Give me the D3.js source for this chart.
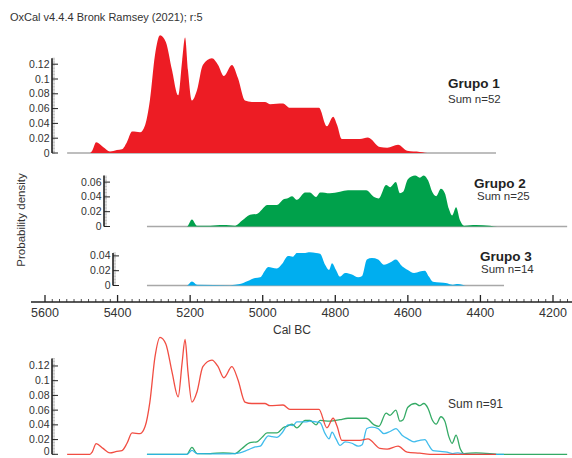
<!DOCTYPE html>
<html>
<head>
<meta charset="utf-8">
<script src="https://cdn.jsdelivr.net/npm/d3@7"></script>
<style>
  html, body { margin: 0; padding: 0; background: #fff; }
  svg { display: block; font-family: "Liberation Sans", Arial, sans-serif; }
</style>
</head>
<body>
<svg id="chart" width="572" height="458"></svg>
<script>
// Summed probability distributions (Cal BC years, probability density)
const group1Years = [5539,5476,5470,5459,5440,5421,5402,5388,5374,5360,5338,5324,5311,5297,5283,5267,5250,5233,5222,5214,5206,5195,5181,5165,5140,5123,5107,5085,5068,5049,5030,4994,4980,4944,4925,4897,4845,4823,4806,4795,4782,4732,4710,4677,4657,4627,4602,4567,4539,4357];
const group1Density = [0,0,0.003,0.0144,0.008,0.002,0.004,0.005,0.015,0.029,0.028,0.038,0.071,0.132,0.159,0.150,0.112,0.078,0.125,0.156,0.112,0.071,0.085,0.119,0.128,0.119,0.104,0.119,0.101,0.071,0.069,0.069,0.066,0.067,0.061,0.061,0.061,0.036,0.049,0.038,0.019,0.019,0.021,0.008,0.007,0.011,0.003,0.0015,0,0];

const group2Years = [5319,5209,5195,5181,5145,5109,5076,5057,5035,5016,5002,4988,4961,4941,4933,4919,4906,4883,4870,4853,4842,4815,4787,4765,4737,4715,4693,4680,4660,4649,4633,4622,4613,4600,4580,4567,4556,4544,4533,4522,4509,4498,4487,4478,4467,4456,4445,4412,4374,4354,4161];
const group2Density = [0,0,0.0095,0.001,0.001,0.002,0.001,0.008,0.016,0.017,0.023,0.029,0.029,0.037,0.038,0.041,0.036,0.046,0.046,0.040,0.046,0.045,0.047,0.049,0.049,0.049,0.040,0.038,0.056,0.053,0.060,0.045,0.047,0.064,0.069,0.066,0.069,0.062,0.047,0.041,0.051,0.045,0.024,0.015,0.026,0.008,0.001,0.002,0.001,0,0];

const group3Years = [5319,5209,5195,5181,5090,5063,5041,5021,5007,4994,4985,4974,4961,4947,4930,4917,4906,4883,4870,4853,4842,4828,4817,4809,4798,4787,4773,4754,4737,4726,4713,4699,4682,4666,4649,4633,4616,4600,4583,4567,4553,4542,4531,4511,4492,4476,4462,4450,4440,4335];
const group3Density = [0,0,0.0054,0.001,0.0005,0.002,0.006,0.010,0.011,0.020,0.025,0.024,0.023,0.029,0.040,0.039,0.044,0.044,0.045,0.044,0.043,0.028,0.021,0.030,0.021,0.012,0.017,0.015,0.011,0.013,0.035,0.037,0.035,0.028,0.031,0.035,0.026,0.021,0.017,0.019,0.020,0.012,0.005,0.004,0.003,0.001,0.002,0.001,0,0];

const groupNames = ["Grupo 1", "Grupo 2", "Grupo 3"];
const groupCounts = ["Sum n=52", "Sum n=25", "Sum n=14"];
const totalLabel = "Sum n=91";
const xTickYears = [5600, 5400, 5200, 5000, 4800, 4600, 4400, 4200];
const titleText = "OxCal v4.4.4 Bronk Ramsey (2021); r:5";
const xTitle = "Cal BC";
const yTitle = "Probability density";

const fills = ["#ed1c24", "#00a14b", "#00aeef"];
const lineColors = ["#ef3a2d", "#1ea154", "#2bb5ea"];
const textColor = "#333";

const svg = d3.select("#chart");

// Shared calendar axis (years BC run left to right from old to young)
const x = d3.scaleLinear().domain([5600, 4200]).range([45, 553]);
const pxPerUnit = 740;

function series(years, dens) { return years.map((yr, i) => ({ yr, d: dens[i] })); }
const data = [
  series(group1Years, group1Density),
  series(group2Years, group2Density),
  series(group3Years, group3Density)
];

// Panel layouts: baseline row, axis x-position and axis maximum
const panels = [
  { base: 153, axisX: 52, max: 0.128, ticks: [0, 0.02, 0.04, 0.06, 0.08, 0.1, 0.12], label: [448, 88], count: [448, 103] },
  { base: 226.5, axisX: 104, max: 0.069, ticks: [0, 0.02, 0.04, 0.06], label: [474, 188], count: [477, 200] },
  { base: 285.5, axisX: 113, max: 0.044, ticks: [0, 0.02, 0.04], label: [480, 261], count: [481, 273] }
];

function drawYAxis(axisX, y, max, ticks) {
  const g = svg.append("g");
  // dense minor ticks
  for (let v = 0; v <= max + 1e-9; v += 0.002) {
    g.append("line").attr("x1", axisX).attr("x2", axisX + 3)
      .attr("y1", y(v)).attr("y2", y(v))
      .attr("stroke", "#9a9a9a").attr("stroke-width", 0.6);
  }
  g.append("line").attr("x1", axisX).attr("x2", axisX)
    .attr("y1", y(0)).attr("y2", y(max))
    .attr("stroke", "#222").attr("stroke-width", 1.6);
  ticks.forEach(v => {
    g.append("line").attr("x1", axisX).attr("x2", axisX + 6)
      .attr("y1", y(v)).attr("y2", y(v))
      .attr("stroke", "#222").attr("stroke-width", 1);
    g.append("text").attr("x", axisX - 2.5).attr("y", Math.min(y(v) + 3.5, 455))
      .attr("text-anchor", "end").attr("font-size", 10.5).attr("fill", textColor)
      .text(String(+v.toFixed(2)));
  });
}

panels.forEach((p, i) => {
  const y = d3.scaleLinear().domain([0, 1]).range([p.base, p.base - pxPerUnit]);
  const pts = data[i];
  // grey baseline over the full range of the distribution
  svg.append("line")
    .attr("x1", x(pts[0].yr)).attr("x2", x(pts[pts.length - 1].yr))
    .attr("y1", y(0)).attr("y2", y(0))
    .attr("stroke", "#a8a8a8").attr("stroke-width", 1.6);
  const area = d3.area().x(d => x(d.yr)).y0(y(0)).y1(d => y(d.d)).curve(d3.curveMonotoneX);
  svg.append("path").datum(pts).attr("d", area).attr("fill", fills[i]);
  drawYAxis(p.axisX, y, p.max, p.ticks);
  svg.append("text").attr("x", p.label[0]).attr("y", p.label[1])
    .attr("font-size", 13.5).attr("font-weight", "bold").attr("fill", "#222").text(groupNames[i]);
  svg.append("text").attr("x", p.count[0]).attr("y", p.count[1])
    .attr("font-size", 11.5).attr("fill", textColor).text(groupCounts[i]);
});

// Calendar axis
const axisY = 302;
svg.append("line").attr("x1", 31).attr("x2", 572).attr("y1", axisY).attr("y2", axisY)
  .attr("stroke", "#222").attr("stroke-width", 1.4);
d3.range(5600, 4139, -20).forEach(yr => {
  const major = yr % 200 === 0;
  svg.append("line").attr("x1", x(yr)).attr("x2", x(yr))
    .attr("y1", axisY).attr("y2", axisY - (major ? 7 : 3))
    .attr("stroke", "#222").attr("stroke-width", major ? 1.3 : 0.8);
});
xTickYears.forEach(yr => {
  svg.append("text").attr("x", x(yr)).attr("y", 317)
    .attr("text-anchor", "middle").attr("font-size", 12.5).attr("fill", textColor).text(yr);
});
svg.append("text").attr("x", 292).attr("y", 334).attr("text-anchor", "middle")
  .attr("font-size", 12).attr("fill", textColor).text(xTitle);

// Title and y label
svg.append("text").attr("x", 10).attr("y", 21).attr("font-size", 11).attr("fill", textColor).text(titleText);
svg.append("text").attr("transform", "translate(25,220) rotate(-90)").attr("text-anchor", "middle")
  .attr("font-size", 11.5).attr("fill", textColor).text(yTitle);

// Combined plot of all three distributions
const yAll = d3.scaleLinear().domain([0, 1]).range([454.3, 454.3 - 736]);
[1, 2, 0].forEach(i => {
  const line = d3.line().x(d => x(d.yr)).y(d => yAll(d.d)).curve(d3.curveMonotoneX);
  svg.append("path").datum(data[i]).attr("d", line)
    .attr("fill", "none").attr("stroke", lineColors[i]).attr("stroke-width", 1.3)
    .attr("stroke-opacity", 0.9);
});
drawYAxis(52, yAll, 0.13, [0, 0.02, 0.04, 0.06, 0.08, 0.1, 0.12]);
svg.append("text").attr("x", 448).attr("y", 408).attr("font-size", 12).attr("fill", textColor).text(totalLabel);
</script>
</body>
</html>
